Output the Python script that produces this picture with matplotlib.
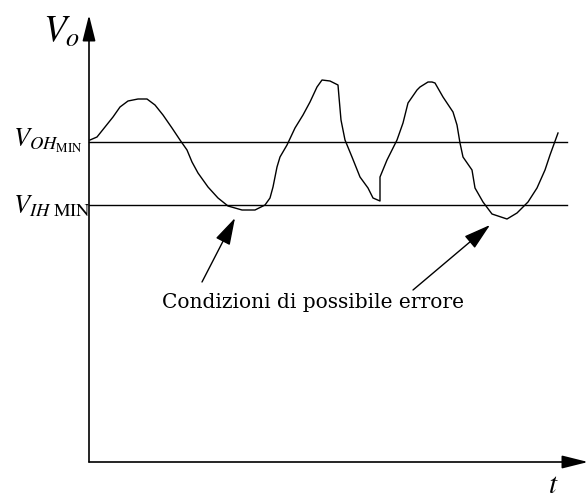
import matplotlib
matplotlib.use("Agg")
import matplotlib.pyplot as plt

plt.rcParams['mathtext.fontset'] = 'stix'

# output voltage trace (t, V in arbitrary units)
t = [0.1, 0.8, 1.6, 2.4, 3.1, 3.9, 4.9, 5.8, 6.6, 7.4, 8.3, 9.1, 9.8, 10.3,
     10.9, 11.9, 12.9, 13.9, 15.3, 16.6, 17.6, 18.1, 18.4, 18.8, 19.1, 19.8,
     20.6, 21.4, 22.1, 22.8, 23.3, 24.1, 24.9, 25.0, 25.2, 25.6, 26.3, 27.1,
     27.9, 28.4, 29.1, 29.1, 29.8, 30.8, 31.4, 31.9, 32.8, 33.1, 33.9, 34.3,
     34.6, 35.4, 36.4, 36.8, 37.1, 37.4, 38.3, 38.6, 39.4, 40.3, 41.8, 42.8,
     43.9, 44.8, 45.6, 46.1, 46.9]
v = [32.2, 32.5, 33.5, 34.5, 35.5, 36.1, 36.3, 36.3, 35.7, 34.7, 33.4, 32.2,
     31.2, 30.0, 28.9, 27.5, 26.4, 25.6, 25.2, 25.2, 25.7, 26.4, 27.5, 29.5,
     30.5, 31.7, 33.4, 34.7, 36.0, 37.5, 38.2, 38.1, 37.7, 36.5, 34.2, 32.2,
     30.5, 28.5, 27.4, 26.4, 26.1, 28.5, 30.2, 32.2, 33.9, 35.9, 37.2, 37.5,
     38.0, 38.0, 37.9, 36.5, 35.0, 33.7, 31.9, 30.5, 29.2, 27.4, 26.0, 24.8,
     24.3, 24.9, 26.0, 27.4, 29.2, 30.7, 32.9]

v_oh_min = 32.0
v_ih_min = 25.7
t_end = 47.8

# error conditions pointed at by the arrows
err_pts = [(14.6, 24.4), (40.1, 23.7)]
err_tails = [(11.3, 18.0), (32.4, 17.2)]
err_label = "Condizioni di possibile errore"

fig = plt.figure(figsize=(5.88, 5.0), dpi=100)
ax = fig.add_axes([0, 0, 1, 1])
ax.set_xlim(-8.9, 49.9)
ax.set_ylim(-3.8, 46.2)
ax.axis('off')

axis_arrow = dict(arrowstyle='-|>,head_length=1.0,head_width=0.25',
                  mutation_scale=16, color='black', lw=1.2,
                  shrinkA=0, shrinkB=0)
ax.annotate('', xy=(0, 44.7), xytext=(0, 0), arrowprops=axis_arrow)
ax.annotate('', xy=(49.9, 0), xytext=(0, 0), arrowprops=axis_arrow)

ax.plot([0, t_end], [v_oh_min, v_oh_min], color='black', lw=1.0)
ax.plot([0, t_end], [v_ih_min, v_ih_min], color='black', lw=1.0)
ax.plot(t, v, color='black', lw=1.0)

ax.text(-4.6, 42.0, r'$V_o$', fontsize=27, ha='left', va='baseline')
ax.text(-7.6, 31.5, r'$V_{OH_{\mathrm{MIN}}}$', fontsize=19,
        ha='left', va='baseline')
ax.text(-7.6, 24.9, r'$V_{IH\ \mathrm{MIN}}$', fontsize=19,
        ha='left', va='baseline')
ax.text(45.9, -3.1, r'$t$', fontsize=21, ha='left', va='baseline')

arr = dict(arrowstyle='-|>,head_length=1.2,head_width=0.35',
           mutation_scale=14, color='black', lw=1.0,
           shrinkA=0, shrinkB=0)
for tip, tail in zip(err_pts, err_tails):
    ax.annotate('', xy=tip, xytext=tail, arrowprops=arr)
ax.text(22.4, 15.9, err_label, family='DejaVu Serif', fontsize=14.5,
        ha='center', va='center')

fig.savefig('out.png', dpi=100)
